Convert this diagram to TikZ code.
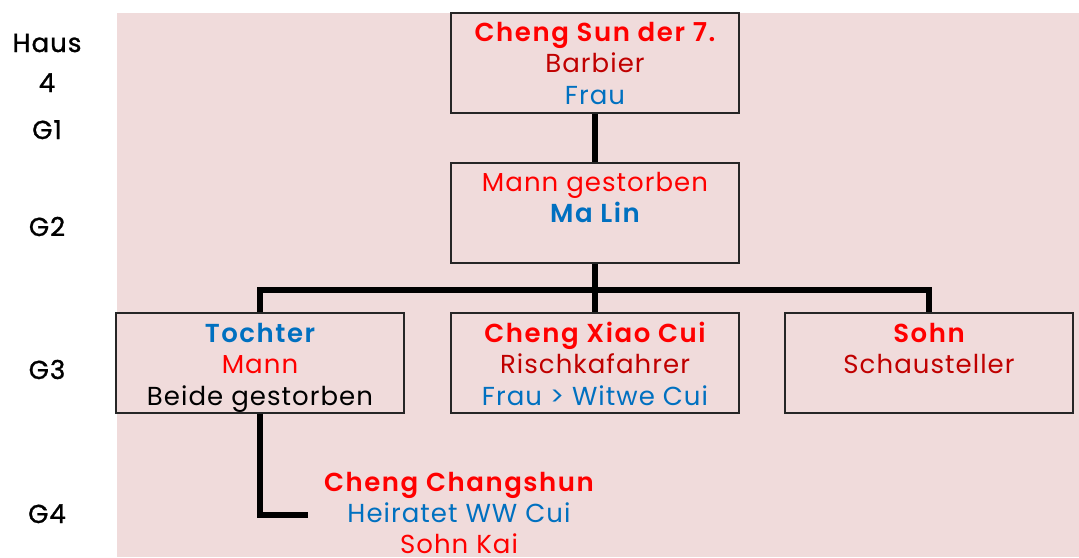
\documentclass[tikz,border=0pt]{standalone}
\usepackage{fontspec}
\setmainfont{Poppins}[LetterSpace=4, BoldFont={Poppins SemiBold}, BoldFeatures={LetterSpace=6}]
\newfontfamily\genfont{Poppins}[LetterSpace=4, FakeBold=1.2]
\definecolor{bg}{RGB}{240,219,219}
\definecolor{red1}{RGB}{255,0,0}
\definecolor{red2}{RGB}{192,0,0}
\definecolor{blue1}{RGB}{0,112,192}
\newcommand{\fsz}{\fontsize{26}{31}\selectfont}
\begin{document}
\begin{tikzpicture}[x=1pt,y=-1pt,
  person/.style={draw=black!85, line width=1.5pt, fill=bg, minimum width=288pt, minimum height=100pt, inner sep=0pt},
  txt/.style={anchor=base, inner sep=0pt, font=\fsz},
  gen/.style={anchor=base, inner sep=0pt, font=\genfont\fsz, text=black},
  link/.style={line width=5.5pt, black, line join=miter}]
\useasboundingbox (0,0) rectangle (1079,557);
% panel behind the tree
\fill[bg] (117,13) rectangle (1079,557);

% generation labels
\node[gen] (haus) at (47,52) {Haus};
\node[gen] (hnr) at (47,92) {4};
\node[gen] (g1) at (47,139) {G1};
\node[gen] (g2) at (47,236) {G2};
\node[gen] (g3) at (47,379) {G3};
\node[gen] (g4) at (47,523) {G4};

% person boxes
\node[person] (b1) at (595,63) {};
\node[person] (b2) at (595,213) {};
\node[person] (b3) at (260,363) {};
\node[person] (b4) at (595,363) {};
\node[person] (b5) at (929,363) {};

% connectors
\coordinate (jn) at (595,290);
\coordinate (c4end) at (308,515);
\draw[link] (b1.south) -- (b2.north);
\draw[link] (b2.south) -- (b4.north);
\draw[link] (b3.north) |- (jn) -| (b5.north);
\draw[link] (b3.south) |- (c4end);

% texts, generation 1
\node[txt, text=red1, font=\fsz\bfseries] (t1a) at (595,41) {Cheng Sun der 7.};
\node[txt, text=red2] (t1b) at (595,72) {Barbier};
\node[txt, text=blue1] (t1c) at (595,104) {Frau};
% generation 2
\node[txt, text=red1] (t2a) at (595,191) {Mann gestorben};
\node[txt, text=blue1, font=\fsz\bfseries] (t2b) at (595,222) {Ma Lin};
% generation 3
\node[txt, text=blue1, font=\fsz\bfseries] (t3a) at (260,342) {Tochter};
\node[txt, text=red1] (t3b) at (260,373) {Mann};
\node[txt, text=black] (t3c) at (260,405) {Beide gestorben};
\node[txt, text=red1, font=\fsz\bfseries] (t4a) at (595,342) {Cheng Xiao Cui};
\node[txt, text=red2] (t4b) at (595,373) {Rischkafahrer};
\node[txt, text=blue1] (t4c) at (595,405) {Frau > Witwe Cui};
\node[txt, text=red1, font=\fsz\bfseries] (t5a) at (929,342) {Sohn};
\node[txt, text=red2] (t5b) at (929,373) {Schausteller};
% generation 4
\node[txt, text=red1, font=\fsz\bfseries] (t6a) at (459,491) {Cheng Changshun};
\node[txt, text=blue1] (t6b) at (459,522) {Heiratet WW Cui};
\node[txt, text=red1] (t6c) at (459,553) {Sohn Kai};
\end{tikzpicture}
\end{document}
